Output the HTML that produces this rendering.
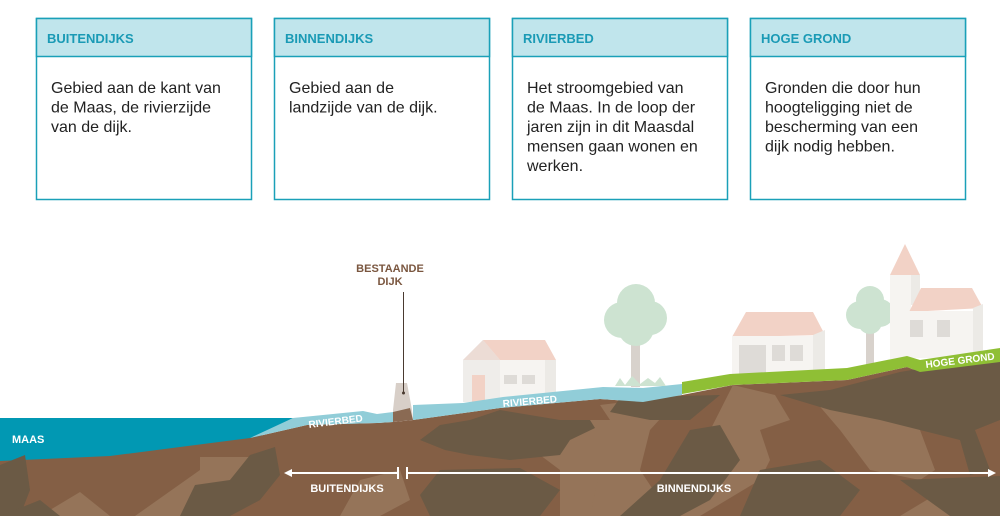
<!DOCTYPE html>
<html><head><meta charset="utf-8"><style>
html,body{margin:0;padding:0;background:#fff;width:1000px;height:516px;overflow:hidden}
svg{display:block}
.h{font:bold 13px "Liberation Sans",sans-serif;fill:#1a9ab5}
.b{font:16px "Liberation Sans",sans-serif;fill:#222}
.w{font:bold 10px "Liberation Sans",sans-serif;fill:#fff}
.d{font:bold 11px "Liberation Sans",sans-serif;fill:#7a563f}
</style></head><body>
<svg width="1000" height="516" viewBox="0 0 1000 516" xmlns="http://www.w3.org/2000/svg">
<g stroke="#1aa0b8" stroke-width="1.5">
<rect x="36.5" y="18.5" width="215" height="181" fill="#fff"/>
<rect x="36.5" y="18.5" width="215" height="38" fill="#c0e5ec"/>
<rect x="274.5" y="18.5" width="215" height="181" fill="#fff"/>
<rect x="274.5" y="18.5" width="215" height="38" fill="#c0e5ec"/>
<rect x="512.5" y="18.5" width="215" height="181" fill="#fff"/>
<rect x="512.5" y="18.5" width="215" height="38" fill="#c0e5ec"/>
<rect x="750.5" y="18.5" width="215" height="181" fill="#fff"/>
<rect x="750.5" y="18.5" width="215" height="38" fill="#c0e5ec"/>
</g>
<text class="h" x="47" y="43">BUITENDIJKS</text>
<text class="h" x="285" y="43">BINNENDIJKS</text>
<text class="h" x="523" y="43">RIVIERBED</text>
<text class="h" x="761" y="43">HOGE GROND</text>
<g class="b">
<text x="51" y="93">Gebied aan de kant van</text>
<text x="51" y="112.5">de Maas, de rivierzijde</text>
<text x="51" y="132">van de dijk.</text>
<text x="289" y="93">Gebied aan de</text>
<text x="289" y="112.5">landzijde van de dijk.</text>
<text x="527" y="93">Het stroomgebied van</text>
<text x="527" y="112.5">de Maas. In de loop der</text>
<text x="527" y="132">jaren zijn in dit Maasdal</text>
<text x="527" y="151.5">mensen gaan wonen en</text>
<text x="527" y="171">werken.</text>
<text x="765" y="93">Gronden die door hun</text>
<text x="765" y="112.5">hoogteligging niet de</text>
<text x="765" y="132">bescherming van een</text>
<text x="765" y="151.5">dijk nodig hebben.</text>
</g>
<!-- trees -->
<rect x="631" y="335" width="9" height="52" fill="#d8d2cc"/>
<g fill="#cde3d1"><circle cx="622" cy="320" r="18"/><circle cx="650" cy="318" r="17"/><circle cx="636" cy="303" r="19"/><circle cx="636" cy="328" r="18"/></g>
<rect x="866" y="330" width="8" height="36" fill="#d8d2cc"/>
<g fill="#cde3d1"><circle cx="860" cy="315" r="14"/><circle cx="880" cy="313" r="14"/><circle cx="870" cy="300" r="14"/><circle cx="870" cy="322" r="12"/></g>
<!-- house 1 -->
<polygon points="463,360 483,340 500,340 500,402 463,402" fill="#efedea"/>
<polygon points="483,340 545,340 556,360 500,360" fill="#f2d2c6"/>
<polygon points="463,360 483,340 500,360" fill="#ecdcd5"/>
<rect x="500" y="360" width="45" height="42" fill="#f6f4f1"/>
<polygon points="545,360 556,360 556,400 545,400" fill="#eceae6"/>
<rect x="472" y="375" width="13" height="27" fill="#f2d2c6"/>
<rect x="504" y="375" width="13" height="9" fill="#dedbd7"/><rect x="522" y="375" width="13" height="9" fill="#dedbd7"/>
<!-- house 2 -->
<polygon points="746,312 813,312 825,335 732,337" fill="#f2d2c6"/>
<rect x="732" y="336" width="82" height="40" fill="#f6f4f1"/>
<polygon points="813,335 825,330 825,372 813,374" fill="#eceae6"/>
<rect x="739" y="345" width="27" height="30" fill="#dedbd7"/>
<rect x="772" y="345" width="13" height="16" fill="#dedbd7"/><rect x="790" y="345" width="13" height="16" fill="#dedbd7"/>
<!-- church -->
<polygon points="905,244 890,275 920,275" fill="#f2d2c6"/>
<rect x="890" y="275" width="21" height="85" fill="#f6f4f1"/>
<rect x="911" y="275" width="9" height="30" fill="#eceae6"/>
<polygon points="921,288 972,288 983,308 909,312" fill="#f2d2c6"/>
<rect x="909" y="311" width="64" height="47" fill="#f6f4f1"/>
<polygon points="973,308 983,304 983,350 973,355" fill="#eceae6"/>
<rect x="910" y="320" width="13" height="17" fill="#dedbd7"/><rect x="937" y="320" width="13" height="17" fill="#dedbd7"/>
<!-- water -->
<polygon points="0,418 293,418 250,442 0,472" fill="#0198b3"/>
<!-- ground base -->
<polygon points="0,461 110,456 180,447 250,438 307,425 377,423 393,422 413,420 500,408 600,399 643,402 682,395 733,385 847,380 907,367 920,372 1000,358 1000,516 0,516" fill="#845f45"/>
<g fill="#957459">
<polygon points="40,516 80,492 110,516"/>
<polygon points="200,457 250,457 230,480 215,490 190,516 135,516 200,470"/>
<polygon points="500,430 560,420 610,420 600,405 682,395 650,430 640,470 620,516 560,516 560,470 520,440"/>
<polygon points="733,385 775,395 790,420 760,430 770,460 760,480 700,516 650,516 690,470"/>
<polygon points="810,395 870,395 920,430 935,470 920,480 870,470 840,430"/>
<polygon points="600,470 640,470 660,500 620,516 590,516"/>
<polygon points="900,516 960,480 970,516"/>
<polygon points="360,480 400,470 410,500 380,516 340,516"/>
</g>
<g fill="#6b5a45">
<polygon points="0,465 25,455 30,490 20,516 0,516"/>
<polygon points="195,485 230,480 250,455 275,447 280,475 260,500 230,516 180,516"/>
<polygon points="420,440 440,425 470,420 500,410 560,420 590,420 595,428 570,440 560,455 510,460 470,455 445,450"/>
<polygon points="620,398 680,396 720,395 690,420 650,420 610,412"/>
<polygon points="690,430 720,425 740,460 710,500 680,516 620,516 660,480"/>
<polygon points="780,395 830,390 900,372 960,362 1000,358 1000,420 975,430 990,470 970,475 960,440 920,430 880,420 830,410"/>
<polygon points="760,470 820,460 860,490 840,516 740,516"/>
<polygon points="0,516 40,500 60,516"/>
<polygon points="440,470 520,468 560,490 540,516 430,516 420,495"/>
<polygon points="900,480 1000,476 1000,516 950,516"/>
</g>
<polygon points="293,418 363,411 377,414 393,412 393,422 377,423 307,425 250,438" fill="#91cdd8"/>
<polygon points="413,405 463,403 503,397 603,387 643,388 682,384 682,395 643,402 600,399 500,408 413,420" fill="#91cdd8"/>
<polygon points="615,386 620,378 625,385 632,376 640,384 648,378 655,383 660,377 666,386" fill="#cde3d1"/>
<polygon points="682,382 730,374 847,368 907,356 920,360 1000,348 1000,362 920,372 907,367 847,380 733,385 682,394" fill="#8fbf35"/>
<!-- dike -->
<polygon points="396,383 407,383 412,410 413,420 393,422 393,410" fill="#d8cfc8"/>
<polygon points="393,412 410,408 413,420 393,422" fill="#8a6a53"/>
<line x1="403.5" y1="292" x2="403.5" y2="393" stroke="#4a3a30" stroke-width="1"/>
<circle cx="403.5" cy="393" r="1.5" fill="#4a3a30"/>
<text class="d" x="390" y="272" text-anchor="middle">BESTAANDE</text>
<text class="d" x="390" y="285" text-anchor="middle">DIJK</text>
<text class="w" x="309" y="428" transform="rotate(-7 309 428)">RIVIERBED</text>
<text class="w" x="503" y="407" transform="rotate(-5 503 407)">RIVIERBED</text>
<text class="w" x="926" y="368" transform="rotate(-7 926 368)">HOGE GROND</text>
<text x="12" y="443" style="font:bold 11px 'Liberation Sans',sans-serif;fill:#fff">MAAS</text>
<g stroke="#fff" stroke-width="2" fill="none">
<line x1="290" y1="473" x2="398" y2="473"/>
<line x1="398" y1="467" x2="398" y2="479"/>
<line x1="407" y1="467" x2="407" y2="479"/>
<line x1="407" y1="473" x2="988" y2="473"/>
</g>
<polygon points="284,473 292,469 292,477" fill="#fff"/>
<polygon points="996,473 988,469 988,477" fill="#fff"/>
<text class="w" x="347" y="492" text-anchor="middle" style="font-size:11px">BUITENDIJKS</text>
<text class="w" x="694" y="492" text-anchor="middle" style="font-size:11px">BINNENDIJKS</text>
</svg>
</body></html>
